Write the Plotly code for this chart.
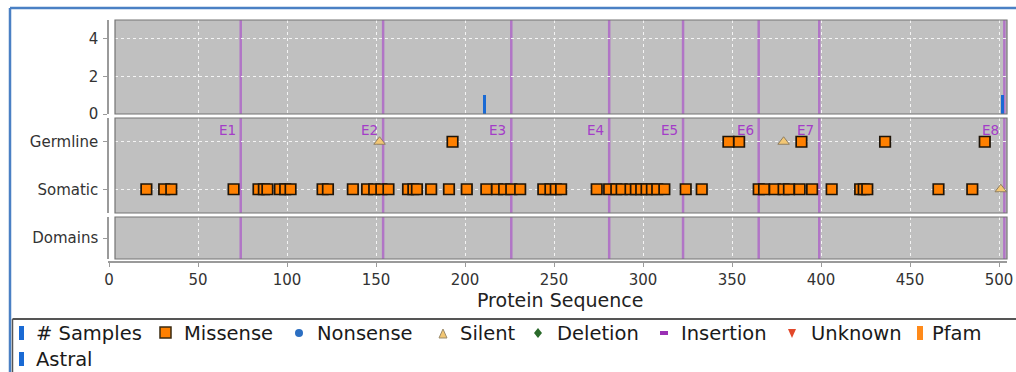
import plotly.graph_objects as go

# ---------------- data ----------------
samples_pos = [211, 502]
samples_count = [1, 1]

exon_ends = [74, 154, 226, 281, 322.5, 365, 399, 503]
exon_labels = ["E1", "E2", "E3", "E4", "E5", "E6", "E7", "E8"]

germline_missense = [193, 348, 354, 389, 436, 492]
germline_silent = [152, 379]

somatic_missense = [21, 31, 35, 70, 84, 87, 89, 96, 99, 102, 120, 123, 137, 145,
                    149, 153, 157, 168, 171, 173, 181, 191, 201, 212, 218, 222,
                    226, 231, 244, 248, 251, 254, 274, 281, 285, 288, 293, 296,
                    299, 302, 305, 308, 312, 324, 333, 365, 368, 374, 379, 382,
                    388, 395, 406, 422, 424, 426, 466, 485]
somatic_silent = [501]

row_labels = ["Somatic", "Germline"]
x_ticks = [0, 50, 100, 150, 200, 250, 300, 350, 400, 450, 500]
y_ticks_samples = [0, 2, 4]

legend_items = ["# Samples", "Missense", "Nonsense", "Silent", "Deletion",
                "Insertion", "Unknown", "Pfam", "Astral"]

# ---------------- geometry helpers ----------------
W, H = 1016, 372
OFF = 0  # body margin is removed by the post script below
FONT = "DejaVu Sans"


def fx(p):
    return (p - OFF) / W


def fy(p):
    return 1 - (p - OFF) / H


PX0, PXS = 109.0, 1.78  # screen pixel of x=0, pixels per residue
x_range = [(115 - PX0) / PXS, (1007 - PX0) / PXS]
x_tick_range = [(108 - PX0) / PXS, (1007 - PX0) / PXS]
panel_dom_x = [fx(115), fx(1007)]

dom_top = [fy(114), fy(20)]
dom_mid = [fy(213), fy(118)]
dom_bot = [fy(259), fy(217)]

BG = "#C0C0C0"
GRID = "#F4F4F4"
AXC = "#9A9A9A"
PURPLE_LINE = "rgba(172,92,200,0.75)"
PURPLE_TXT = "#A43CC8"
ORANGE = "#FF8000"
BLUE = "#1A6AD4"
TICKFONT = dict(family=FONT, size=15, color="#333")

fig = go.Figure()

# Samples bars
fig.add_trace(go.Bar(x=samples_pos, y=samples_count, width=1.6,
                     marker=dict(color=BLUE, line=dict(width=0)),
                     xaxis="x", yaxis="y", showlegend=False, hoverinfo="x+y"))

sq = dict(symbol="square", size=10.5, color=ORANGE, line=dict(color="#1E1408", width=1.7))
tri = dict(symbol="triangle-up", size=10, color="#F3C774", line=dict(color="#8E7E62", width=1))

fig.add_trace(go.Scatter(x=somatic_missense, y=[0] * len(somatic_missense), mode="markers",
                         marker=sq, xaxis="x2", yaxis="y2", showlegend=False, cliponaxis=False))
fig.add_trace(go.Scatter(x=germline_missense, y=[1] * len(germline_missense), mode="markers",
                         marker=sq, xaxis="x2", yaxis="y2", showlegend=False, cliponaxis=False))
fig.add_trace(go.Scatter(x=germline_silent, y=[1] * len(germline_silent), mode="markers",
                         marker=tri, xaxis="x2", yaxis="y2", showlegend=False, cliponaxis=False))
fig.add_trace(go.Scatter(x=somatic_silent, y=[0] * len(somatic_silent), mode="markers",
                         marker=tri, xaxis="x2", yaxis="y2", showlegend=False, cliponaxis=False))
# empty traces so the domains panel and tick axis exist
fig.add_trace(go.Scatter(x=[None], y=[None], xaxis="x3", yaxis="y3", showlegend=False))
fig.add_trace(go.Scatter(x=[None], y=[None], xaxis="x4", yaxis="y3", showlegend=False))

panel_x = dict(domain=panel_dom_x, range=x_range, showline=False, ticks="",
               showticklabels=False, showgrid=True, gridcolor=GRID, gridwidth=1,
               griddash="3px,3px", tickvals=x_ticks, zeroline=False, fixedrange=True)

yaxis_common = dict(anchor="free", position=fx(108), showline=True, linecolor=AXC,
                    linewidth=1.5, ticks="outside", ticklen=4, tickcolor=AXC,
                    tickfont=TICKFONT, zeroline=False, ticklabelstandoff=2,
                    fixedrange=True)

fig.update_layout(
    width=W, height=H,
    margin=dict(l=0, r=0, t=0, b=0, autoexpand=False),
    paper_bgcolor="white",
    plot_bgcolor="rgba(0,0,0,0)",
    showlegend=False,
    font=dict(family=FONT, color="#333"),
    xaxis=dict(panel_x, anchor="y"),
    xaxis2=dict(panel_x, anchor="y2"),
    xaxis3=dict(panel_x, anchor="y3"),
    xaxis4=dict(domain=[fx(108), fx(1007)], range=x_tick_range, anchor="free",
                position=fy(262), showline=True, linecolor=AXC, linewidth=1.5,
                ticks="outside", ticklen=4, tickcolor=AXC, tickvals=x_ticks,
                tickfont=TICKFONT, ticklabelstandoff=0, showgrid=False,
                zeroline=False, fixedrange=True, ticklabeloverflow="allow"),
    yaxis=dict(yaxis_common, domain=dom_top, range=[0, 5], tickvals=y_ticks_samples,
               showgrid=True, gridcolor=GRID, griddash="3px,3px"),
    yaxis2=dict(yaxis_common, domain=dom_mid, range=[-0.5, 1.5], tickvals=[0, 1],
                ticktext=row_labels, showgrid=True, gridcolor=GRID, griddash="3px,3px"),
    yaxis3=dict(yaxis_common, domain=dom_bot, range=[-0.5, 0.5], tickvals=[0],
                ticktext=["Domains"], showgrid=False),
    bargap=0,
)

shapes = []
annots = []

# panel backgrounds + exon lines + borders
for xa, ya in (("x", "y"), ("x2", "y2"), ("x3", "y3")):
    shapes.append(dict(type="rect", xref=f"{xa} domain", yref=f"{ya} domain",
                       x0=0, x1=1, y0=0, y1=1, fillcolor=BG, line=dict(width=0),
                       layer="below"))
    for e in exon_ends:
        shapes.append(dict(type="line", xref=xa, yref=f"{ya} domain", x0=e, x1=e,
                           y0=0, y1=1, line=dict(color=PURPLE_LINE, width=2.5),
                           layer="below"))
    shapes.append(dict(type="rect", xref=f"{xa} domain", yref=f"{ya} domain",
                       x0=0, x1=1, y0=0, y1=1, fillcolor="rgba(0,0,0,0)",
                       line=dict(color="#747474", width=1.2), layer="above"))

# exon labels
for e, lab in zip(exon_ends, exon_labels):
    annots.append(dict(x=e, xref="x2", y=fy(130), yref="paper", text=lab,
                       showarrow=False, xanchor="right", yanchor="middle", xshift=-3,
                       font=dict(family=FONT, size=13.5, color=PURPLE_TXT)))

# x axis title
annots.append(dict(x=fx(560), y=fy(300), xref="paper", yref="paper",
                   text="Protein Sequence", showarrow=False, xanchor="center",
                   yanchor="middle", font=dict(family=FONT, size=19, color="#222")))

# outer frame
shapes.append(dict(type="line", xref="paper", yref="paper", x0=fx(10), x1=1,
                   y0=fy(8), y1=fy(8), line=dict(color="#4A80C4", width=2.5)))
shapes.append(dict(type="line", xref="paper", yref="paper", x0=fx(10), x1=fx(10),
                   y0=fy(8), y1=0, line=dict(color="#4A80C4", width=2.5)))
shapes.append(dict(type="line", xref="paper", yref="paper", x0=fx(12.5), x1=1,
                   y0=fy(319), y1=fy(319), line=dict(color="#555555", width=2)))
shapes.append(dict(type="line", xref="paper", yref="paper", x0=fx(12.5), x1=fx(12.5),
                   y0=fy(319), y1=0, line=dict(color="#555555", width=1.5)))


# ---------------- legend (icons + text) ----------------
def prect(x0, y0, x1, y1, fill, line=None, lw=0):
    shapes.append(dict(type="rect", xref="paper", yref="paper", x0=fx(x0), x1=fx(x1),
                       y0=fy(y1), y1=fy(y0), fillcolor=fill,
                       line=dict(color=line or fill, width=lw)))


def ppath(pts, fill, line=None, lw=0):
    d = "M " + " L ".join(f"{fx(a):.5f},{fy(b):.5f}" for a, b in pts) + " Z"
    shapes.append(dict(type="path", xref="paper", yref="paper", path=d, fillcolor=fill,
                       line=dict(color=line or fill, width=lw)))


def ptext(x, y, t):
    annots.append(dict(x=fx(x), y=fy(y), xref="paper", yref="paper", text=t,
                       showarrow=False, xanchor="left", yanchor="middle",
                       font=dict(family=FONT, size=19.5, color="#1A1A1A")))


R1, R2 = 333, 359
prect(19, 326, 24, 340, BLUE)
ptext(34, R1, legend_items[0])
prect(160, 327, 171, 338, ORANGE, "#3A2A10", 1.5)
ptext(182, R1, legend_items[1])
shapes.append(dict(type="circle", xref="paper", yref="paper", x0=fx(295), x1=fx(303),
                   y0=fy(337), y1=fy(329), fillcolor="#2C6FC2",
                   line=dict(color="#2C6FC2", width=0)))
ptext(315, R1, legend_items[2])
ppath([(439, 338), (447, 338), (443, 329)], "#F3C774", "#9A8A6A", 1)
ptext(458, R1, legend_items[3])
ppath([(538, 328), (542, 333), (538, 338), (534, 333)], "#2A6A2A")
ptext(555, R1, legend_items[4])
prect(660, 331, 668, 335, "#9A30B4")
ptext(679, R1, legend_items[5])
ppath([(788, 329), (796, 329), (792, 338)], "#E2482A")
ptext(809, R1, legend_items[6])
prect(917, 326, 923, 340, "#FF8A1A")
ptext(930, R1, legend_items[7])
prect(19, 352, 24, 366, BLUE)
ptext(34, R2, legend_items[8])

fig.update_layout(shapes=shapes, annotations=annots)
fig.write_html(
    "out.html",
    config={"displayModeBar": False},
    post_script=("document.documentElement.style.overflow='hidden';"
                 "document.body.style.margin='0px';"
                 "document.body.style.overflow='hidden';"),
)
